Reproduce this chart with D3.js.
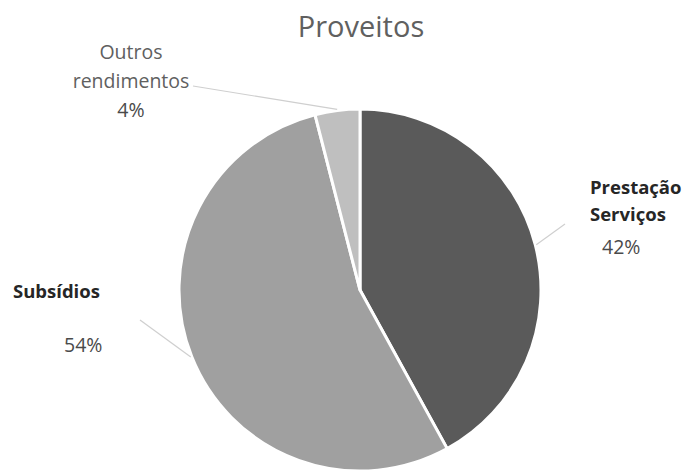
<!DOCTYPE html>
<html>
<head>
<meta charset="utf-8">
<script src="https://cdn.jsdelivr.net/npm/d3@7"></script>
<style>
  html, body { margin: 0; padding: 0; background: #fff; }
  svg { display: block; font-family: "Open Sans", "Noto Sans", sans-serif; }
</style>
</head>
<body>
<svg id="chart" width="687" height="473"></svg>
<script>
// Revenue breakdown ("Proveitos")
const categories = ["Prestação Serviços", "Subsídios", "Outros rendimentos"];
const values = [42, 54, 4];
const percentLabels = ["42%", "54%", "4%"];
const sliceColors = ["#5a5a5a", "#a0a0a0", "#bfbfbf"];

const width = 687, height = 473;
const cx = 360, cy = 290, radius = 181;

const svg = d3.select("#chart");

// Title
svg.append("text")
  .attr("x", 361).attr("y", 37)
  .attr("text-anchor", "middle")
  .attr("font-size", 29)
  .attr("font-weight", 400)
  .attr("fill", "#606060")
  .text("Proveitos");

const pie = d3.pie().sort(null).value(d => d.value);
const slices = pie(categories.map((c, i) => ({ name: c, value: values[i], pct: percentLabels[i], color: sliceColors[i] })));

const arc = d3.arc().innerRadius(0).outerRadius(radius);
const edgeArc = d3.arc().innerRadius(radius + 1).outerRadius(radius + 1);

const g = svg.append("g").attr("transform", `translate(${cx},${cy})`);

g.selectAll("path.slice")
  .data(slices)
  .join("path")
  .attr("class", "slice")
  .attr("d", arc)
  .attr("fill", d => d.data.color)
  .attr("stroke", "#fff")
  .attr("stroke-width", 3)
  .attr("stroke-linejoin", "round");

// Label placement for each category (relative to the chart origin, not the pie)
const labelLayout = {
  "Prestação Serviços": { lines: ["Prestação", "Serviços"], x: 590, ys: [194, 221], anchor: "start", bold: true,
                          pctX: 602, pctY: 254, lead: [565, 224] },
  "Subsídios":          { lines: ["Subsídios"], x: 13, ys: [298], anchor: "start", bold: true,
                          pctX: 64, pctY: 352, lead: [140, 320] },
  "Outros rendimentos": { lines: ["Outros", "rendimentos"], x: 131, ys: [59, 88], anchor: "middle", bold: false,
                          pctX: 131, pctY: 117, pctAnchor: "middle", lead: [193, 86] }
};

// Leader lines from the slice edge to its label
svg.selectAll("line.leader")
  .data(slices)
  .join("line")
  .attr("class", "leader")
  .attr("x1", d => cx + edgeArc.centroid(d)[0])
  .attr("y1", d => cy + edgeArc.centroid(d)[1])
  .attr("x2", d => labelLayout[d.data.name].lead[0])
  .attr("y2", d => labelLayout[d.data.name].lead[1])
  .attr("stroke", "#cfcfcf")
  .attr("stroke-width", 1.2);

// Category names and percentages
slices.forEach(d => {
  const L = labelLayout[d.data.name];
  L.lines.forEach((line, i) => {
    svg.append("text")
      .attr("x", L.x).attr("y", L.ys[i])
      .attr("text-anchor", L.anchor)
      .attr("font-size", L.bold ? 18.5 : 19.5)
      .attr("font-weight", L.bold ? 700 : 400)
      .attr("fill", L.bold ? "#262626" : "#606060")
      .text(line);
  });
  svg.append("text")
    .attr("x", L.pctX).attr("y", L.pctY)
    .attr("text-anchor", L.pctAnchor || "start")
    .attr("font-size", 19.5)
    .attr("fill", "#4a4a4a")
    .text(d.data.pct);
});
</script>
</body>
</html>
